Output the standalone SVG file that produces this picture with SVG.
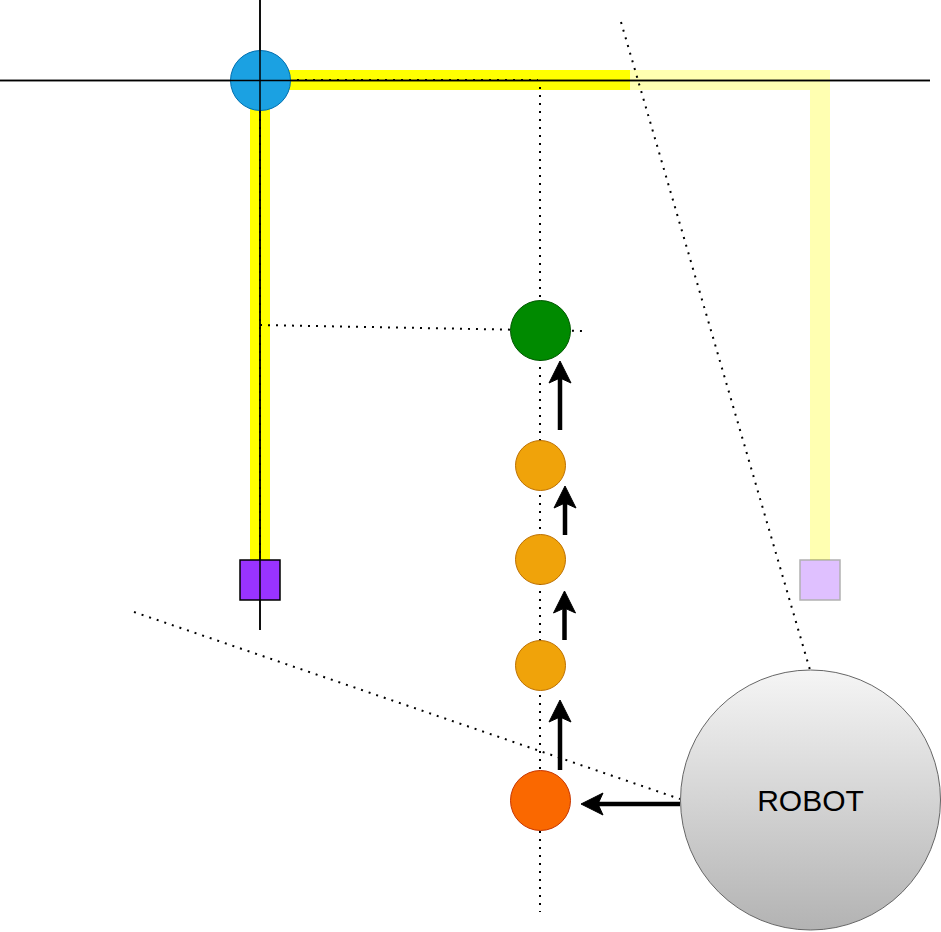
<svg xmlns="http://www.w3.org/2000/svg" width="941" height="932" viewBox="0 0 941 932">
<style>
.dot{fill:none;stroke:#000;stroke-width:2;stroke-dasharray:2 6}
.thin{fill:none;stroke:#000;stroke-width:1.5}
.arr{fill:none;stroke:#000;stroke-width:4.5}
.head{fill:#000;stroke:#000;stroke-width:1}
.orange{fill:#F0A30A;stroke:#BD7000;stroke-width:1}
.lbl{font-family:"Liberation Sans",Arial,Helvetica,sans-serif;font-size:30px;fill:#000}
</style>
<defs>
<linearGradient id="robotGrad" x1="0" y1="0" x2="0" y2="1">
<stop offset="0" stop-color="#F5F5F5"/>
<stop offset="1" stop-color="#B3B3B3"/>
</linearGradient>
</defs>
<rect width="941" height="932" fill="#fff"/>
<g id="paths">
<polyline points="260,560 260,80 630,80" fill="none" stroke="#FFFF00" stroke-width="20"/>
<g opacity="0.3">
<line x1="630" y1="80" x2="830" y2="80" stroke="#FFFF00" stroke-width="20"/>
<line x1="820" y1="70" x2="820" y2="560" stroke="#FFFF00" stroke-width="20"/>
</g>
</g>
<g id="connectors">
<line class="thin" x1="0" y1="80.5" x2="930" y2="80.5"/>
<line class="thin" x1="260" y1="0" x2="260" y2="630"/>
<path class="dot" d="M289,80 H538 M540,87 V912"/>
<line class="dot" x1="260" y1="111" x2="260" y2="560"/>
<line class="dot" x1="260" y1="325" x2="582" y2="331"/>
<line class="dot" x1="621" y1="22" x2="810" y2="670"/>
<line class="dot" x1="134" y1="612" x2="680" y2="799"/>
<g id="arrows">
<line class="arr" x1="560" y1="430" x2="560" y2="375"/>
<path class="head" d="M560,361 L571,383 L560,378 L549,383 Z"/>
<line class="arr" x1="565" y1="535" x2="565" y2="500"/>
<path class="head" d="M565,486 L576,508 L565,503 L554,508 Z"/>
<line class="arr" x1="564.5" y1="640" x2="564.5" y2="605"/>
<path class="head" d="M564.5,591 L575.5,613 L564.5,608 L553.5,613 Z"/>
<line class="arr" x1="560" y1="770" x2="560" y2="714"/>
<path class="head" d="M560,700 L571,722 L560,717 L549,722 Z"/>
<line class="arr" x1="680" y1="804" x2="595" y2="804"/>
<path class="head" d="M581,804 L603,793 L598,804 L603,815 Z"/>
</g>
</g>
<g id="origin"><circle cx="260.5" cy="80.5" r="30" fill="#1BA1E2" stroke="#006EAF" stroke-width="1"/></g>
<g id="crosshair-front">
<line class="thin" x1="0" y1="80.5" x2="930" y2="80.5"/>
<line class="thin" x1="260" y1="0" x2="260" y2="630"/>
</g>
<g id="start-square"><rect x="240" y="560" width="40" height="40" fill="#9933FF" stroke="#000" stroke-width="1.5"/><line class="thin" x1="260" y1="560" x2="260" y2="600"/></g>
<g id="end-square" opacity="0.3"><rect x="800" y="560" width="40" height="40" fill="#9933FF" stroke="#000" stroke-width="1.5"/></g>
<g id="goal"><circle cx="540.5" cy="330.5" r="30" fill="#008A00" stroke="#005700" stroke-width="1"/></g>
<g id="step3"><circle class="orange" cx="540.5" cy="465.5" r="25"/></g>
<g id="step2"><circle class="orange" cx="540.5" cy="559.5" r="25"/></g>
<g id="step1"><circle class="orange" cx="540.5" cy="665.5" r="25"/></g>
<g id="current"><circle cx="540.5" cy="800.5" r="30" fill="#FA6800" stroke="#C73500" stroke-width="1"/></g>
<g id="robot">
<circle cx="810.5" cy="800" r="130" fill="url(#robotGrad)" stroke="#666666" stroke-width="1"/>
<text class="lbl" x="810.5" y="811" text-anchor="middle">ROBOT</text>
</g>
</svg>
